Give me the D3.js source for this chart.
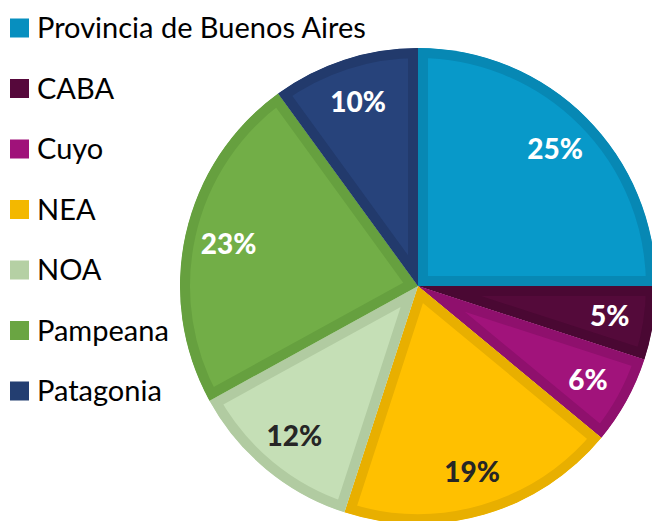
<!DOCTYPE html>
<html><head><meta charset="utf-8">
<script src="https://cdn.jsdelivr.net/npm/d3@7"></script>
<style>body{margin:0;background:#fff}svg{display:block}</style>
</head><body>
<svg id="c" width="652" height="521"></svg>
<script>
const categories = ["Provincia de Buenos Aires","CABA","Cuyo","NEA","NOA","Pampeana","Patagonia"];
const values = [25,5,6,19,12,23,10];
const labels = ["25%","5%","6%","19%","12%","23%","10%"];
const fillColors = ["#0899C9","#540A3A","#A1137B","#FFC000","#C5DFB6","#72AE47","#27437B"];
const edgeColors = ["#0788B4","#4A0833","#8F106D","#E8AF00","#B1CBA1","#66A03F","#223A6C"];
const legendColors = ["#078FBF","#56083B","#A0127A","#F3B800","#B5D0A4","#6AA542","#233E71"];
const labelColors = ["#fff","#fff","#fff","#262626","#262626","#fff","#fff"];

const svg = d3.select("#c");
const cx = 418, cy = 286, R = 238;
const data = categories.map((c,i)=>({c, v: values[i], i}));
const pie = d3.pie().value(d=>d.v).sort(null).startAngle(0).endAngle(2*Math.PI);
const arcs = pie(data);
const arc = d3.arc().innerRadius(0).outerRadius(R);
const labelArc = d3.arc().innerRadius(194).outerRadius(194);

const defs = svg.append("defs");
const g = svg.append("g").attr("transform",`translate(${cx},${cy})`);
arcs.forEach((a,k)=>{
  defs.append("clipPath").attr("id","cl"+k).append("path").attr("d",arc(a));
  g.append("path").attr("d",arc(a))
    .attr("fill",fillColors[k])
    .attr("stroke",edgeColors[k]).attr("stroke-width",20)
    .attr("stroke-linejoin","miter")
    .attr("clip-path",`url(#cl${k})`);
});
arcs.forEach((a,k)=>{
  const [x,y] = labelArc.centroid(a);
  g.append("text").attr("x",x).attr("y",y).attr("dy","0.36em")
    .attr("text-anchor","middle")
    .attr("font-family","Lato, 'Open Sans', sans-serif").attr("font-weight","900")
    .attr("font-size",28).attr("fill",labelColors[k]).text(labels[k]);
});

const leg = svg.append("g");
categories.forEach((c,i)=>{
  const y = 28 + i*60.5;
  leg.append("rect").attr("x",10).attr("y",y-9.5).attr("width",19).attr("height",19).attr("fill",legendColors[i]);
  leg.append("text").attr("x",37).attr("y",y).attr("dy","0.35em")
    .attr("font-family","Lato, 'Open Sans', sans-serif").attr("font-size",29)
    .attr("fill","#000").text(c);
});
</script>
</body></html>
